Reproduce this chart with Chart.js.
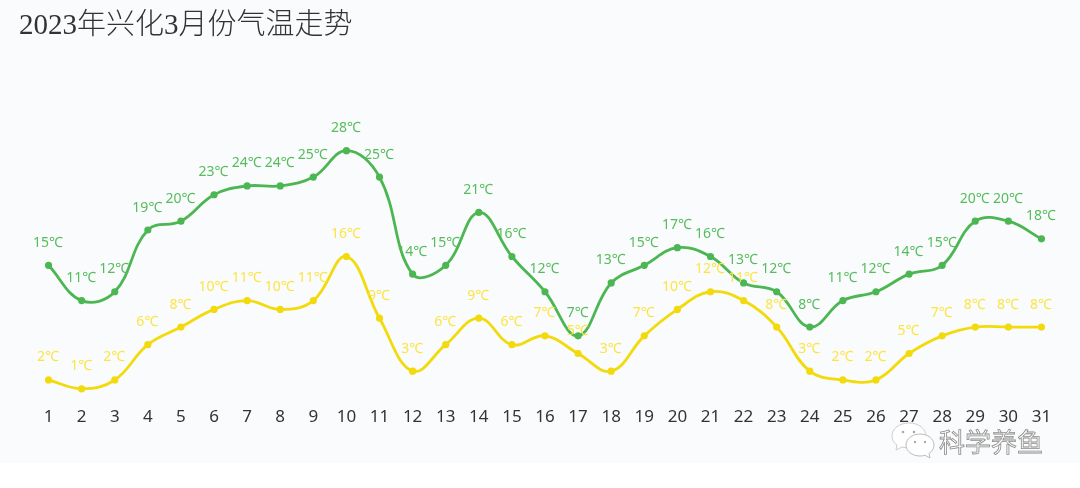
<!DOCTYPE html>
<html><head><meta charset="utf-8">
<script src="https://cdn.jsdelivr.net/npm/chart.js@4"></script>
<style>
html,body{margin:0;padding:0;background:#fff;overflow:hidden}
#bg{position:absolute;left:0;top:0;width:1080px;height:463px;background:#fafbfd}
#wrap{position:absolute;left:0;top:0;width:1080px;height:463px}
#title{position:absolute;left:19px;top:0;font:29px "Liberation Serif","Noto Sans CJK SC",serif;font-weight:300;color:#333;white-space:nowrap}
#mark{position:absolute;left:939px;top:424px;font:26px "Noto Sans CJK SC",sans-serif;line-height:34px;color:#fff;-webkit-text-stroke:.8px #8a8a8a;white-space:nowrap}
#icon{position:absolute;left:890px;top:421px}
</style></head><body>
<div id="bg"></div>
<div id="wrap"><canvas id="c" width="1080" height="463"></canvas></div>
<div id="title">2023年兴化3月份气温走势</div>
<svg id="icon" width="46" height="40" viewBox="0 0 46 40">
<path d="M19 2C9 2 2 8 2 15c0 4 2 7 5 9l-1 5 6-3c2 .5 4 .8 6 .8C28 27 36 21 36 15 36 8 29 2 19 2z" fill="#fff" stroke="#ccc" stroke-width="1"/>
<path d="M30 13c-8 0-14 5-14 11s6 11 14 11c2 0 3-.2 5-.7l5 2.700-1-4.500c3-2 5-5 5-8.500 0-6-6-11-14-11z" fill="#fff" stroke="#bbb" stroke-width="1"/>
<circle cx="13" cy="11" r="1.300" fill="#aaa"/><circle cx="24" cy="11" r="1.300" fill="#aaa"/>
<circle cx="25" cy="21" r="1.200" fill="#aaa"/><circle cx="35" cy="21" r="1.200" fill="#aaa"/>
</svg>
<div id="mark">科学养鱼</div>
<script>
const days = ["1","2","3","4","5","6","7","8","9","10","11","12","13","14","15","16","17","18","19","20","21","22","23","24","25","26","27","28","29","30","31"];
const highs = [15,11,12,19,20,23,24,24,25,28,25,14,15,21,16,12,7,13,15,17,16,13,12,8,11,12,14,15,20,20,18];
const lows = [2,1,2,6,8,10,11,10,11,16,9,3,6,9,6,7,5,3,7,10,12,11,8,3,2,2,5,7,8,8,8];
const unit = "℃";
const labelPlugin = {
  id:'pointLabels',
  afterDatasetsDraw(chart){
    const ctx = chart.ctx;
    chart.data.datasets.forEach((ds,i)=>{
      const meta = chart.getDatasetMeta(i);
      ctx.save();
      ctx.font = '14px "Noto Sans","Noto Sans CJK SC",sans-serif';
      ctx.fillStyle = ds.labelColor;
      ctx.textAlign = 'center';
      ctx.textBaseline = 'middle';
      meta.data.forEach((p,j)=>ctx.fillText(ds.data[j]+unit,p.x-0.5,p.y-22.5));
      ctx.restore();
    });
  }
};
new Chart(document.getElementById('c'),{
  type:'line',
  data:{labels:days,datasets:[
    {data:highs,borderColor:'#4cb752',backgroundColor:'#4cb752',labelColor:'#55bd5b',borderWidth:2.8,pointRadius:2.2,tension:0.4},
    {data:lows,borderColor:'#f2da0c',backgroundColor:'#f2da0c',labelColor:'#fbe545',borderWidth:2.8,pointRadius:2.2,tension:0.4}
  ]},
  options:{
    responsive:false,animation:false,
    layout:{padding:{left:32,right:22,top:133,bottom:0}},
    plugins:{legend:{display:false},tooltip:{enabled:false}},
    scales:{
      x:{offset:true,grid:{display:false,drawTicks:false},border:{display:false},
         ticks:{color:'#333',font:{size:17,family:'"Noto Sans",sans-serif'},maxRotation:0,autoSkip:false,padding:9},
         afterFit(s){s.height=65.4}},
      y:{display:false,min:0,max:30}
    }
  },
  plugins:[labelPlugin]
});
</script>
</body></html>
